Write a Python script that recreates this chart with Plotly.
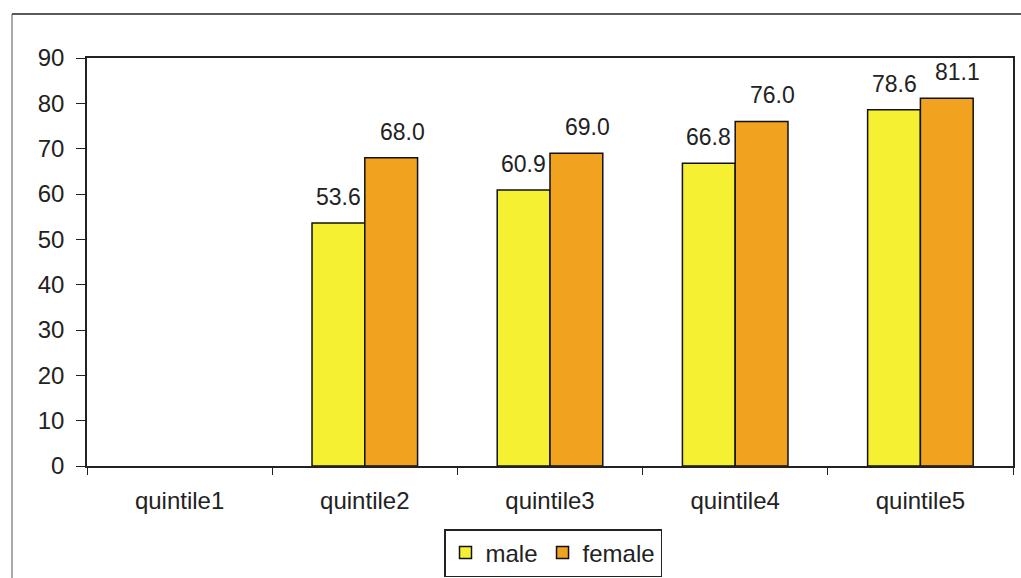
import plotly.graph_objects as go

categories = ["quintile1", "quintile2", "quintile3", "quintile4", "quintile5"]
male = [None, 53.6, 60.9, 66.8, 78.6]
female = [None, 68.0, 69.0, 76.0, 81.1]

MALE_COLOR = "#f6f032"
FEMALE_COLOR = "#f1a21e"
FONT = "Liberation Sans, Arial, sans-serif"
TEXT_COLOR = "#222222"

W, H = 1021, 578
L, R, T, B = 87, 8, 58, 112
plot_w = W - L - R
plot_h = H - T - B
BARGAP = 0.43

fig = go.Figure()
fig.add_trace(go.Bar(
    name="male", x=categories, y=male,
    marker=dict(color=MALE_COLOR, line=dict(color="#111111", width=1.5)),
))
fig.add_trace(go.Bar(
    name="female", x=categories, y=female,
    marker=dict(color=FEMALE_COLOR, line=dict(color="#111111", width=1.5)),
))

# value labels above each bar (female labels sit a little to the right)
bar_px = plot_w / len(categories) * (1 - BARGAP) / 2
annotations = []
for series, shift in ((male, -bar_px / 2), (female, bar_px / 2 + 11)):
    for cat, v in zip(categories, series):
        if v is None:
            continue
        annotations.append(dict(
            x=cat, y=v, xref="x", yref="y", text=f"{v:.1f}",
            showarrow=False, xshift=shift, yshift=11, yanchor="bottom",
            font=dict(family=FONT, size=23, color=TEXT_COLOR),
        ))


def px_to_paper_x(px):
    return (px - L) / plot_w


def px_to_paper_y(py):
    return (H - B - py) / plot_h


# outer chart frame
shapes = [
    dict(type="line", xref="paper", yref="paper",
         x0=px_to_paper_x(12), x1=px_to_paper_x(1030),
         y0=px_to_paper_y(14), y1=px_to_paper_y(14),
         line=dict(color=TEXT_COLOR, width=1.5)),
    dict(type="line", xref="paper", yref="paper",
         x0=px_to_paper_x(12), x1=px_to_paper_x(12),
         y0=px_to_paper_y(14), y1=px_to_paper_y(590),
         line=dict(color="#555555", width=1)),
]

fig.update_layout(
    width=W, height=H,
    margin=dict(l=L, r=R, t=T, b=B, pad=0, autoexpand=False),
    paper_bgcolor="white", plot_bgcolor="white",
    barmode="group", bargap=BARGAP, bargroupgap=0,
    font=dict(family=FONT, size=24, color=TEXT_COLOR),
    annotations=annotations,
    shapes=shapes,
    legend=dict(
        orientation="h", x=px_to_paper_x(553), xanchor="center",
        y=px_to_paper_y(529), yanchor="top",
        bordercolor=TEXT_COLOR, borderwidth=1.5,
        font=dict(family=FONT, size=24, color=TEXT_COLOR),
        itemwidth=30, traceorder="normal",
    ),
    xaxis=dict(
        type="category", showline=True, linecolor=TEXT_COLOR, linewidth=1.5,
        mirror=True, ticks="outside", tickson="boundaries", ticklen=7,
        tickcolor=TEXT_COLOR, showgrid=False, ticklabelstandoff=12,
        automargin=False,
        tickfont=dict(family=FONT, size=24, color=TEXT_COLOR),
    ),
    yaxis=dict(
        range=[0, 90], dtick=10, showline=True, linecolor=TEXT_COLOR,
        linewidth=1.5, mirror=True, ticks="outside", ticklen=9,
        tickcolor=TEXT_COLOR, showgrid=False, zeroline=False,
        ticklabelstandoff=7, automargin=False,
        tickfont=dict(family=FONT, size=24, color=TEXT_COLOR),
    ),
)

fig.write_html("out.html")
